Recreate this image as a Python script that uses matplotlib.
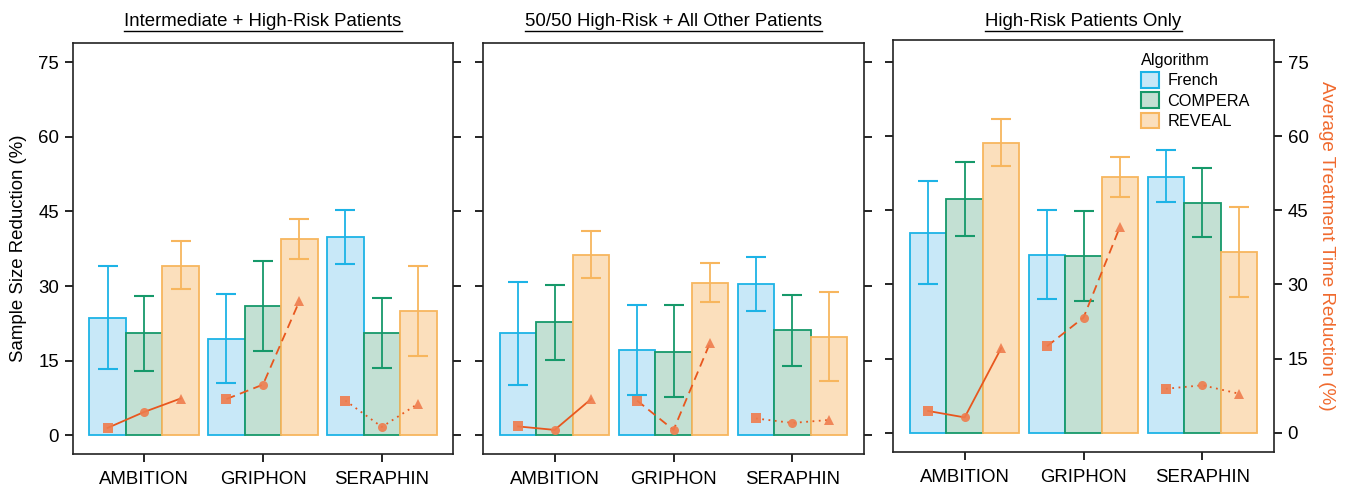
import matplotlib
matplotlib.use("Agg")
import matplotlib.pyplot as plt
import numpy as np
from matplotlib.patches import Patch
from matplotlib.lines import Line2D

plt.rcParams['font.family'] = ['Liberation Sans', 'DejaVu Sans']

trials = ["AMBITION", "GRIPHON", "SERAPHIN"]
algorithms = ["French", "COMPERA", "REVEAL"]
panel_titles = ["Intermediate + High-Risk Patients",
                "50/50 High-Risk + All Other Patients",
                "High-Risk Patients Only"]

# Sample size reduction (%) [panel][trial][algorithm]
ss_mean = [
    [[23.6, 20.5, 34.1], [19.4, 26.0, 39.4], [39.8, 20.5, 25.0]],
    [[20.5, 22.8, 36.3], [17.1, 16.8, 30.7], [30.5, 21.1, 19.8]],
    [[40.5, 47.3, 58.7], [36.0, 35.7, 51.8], [51.8, 46.5, 36.6]],
]
ss_upper = [
    [[34.1, 28.1, 39.0], [28.4, 35.1, 43.5], [45.2, 27.6, 34.1]],
    [[30.9, 30.3, 41.1], [26.1, 26.1, 34.7], [35.8, 28.3, 28.9]],
    [[50.9, 54.8, 63.5], [45.0, 44.8, 55.8], [57.2, 53.6, 45.7]],
]
ss_lower = [
    [[13.3, 12.9, 29.5], [10.5, 16.9, 35.4], [34.5, 13.5, 16.0]],
    [[10.2, 15.2, 31.6], [8.2, 7.7, 26.9], [25.0, 14.0, 10.9]],
    [[30.1, 39.8, 53.9], [27.0, 26.6, 47.7], [46.7, 39.6, 27.5]],
]
# Average treatment time reduction (%) [panel][trial][algorithm]
tt_values = [
    [[1.5, 4.7, 7.4], [7.3, 10.2, 27.0], [7.0, 1.7, 6.4]],
    [[1.8, 1.1, 7.3], [7.0, 1.1, 18.6], [3.4, 2.5, 3.1]],
    [[4.4, 3.1, 17.1], [17.5, 23.3, 41.7], [8.9, 9.6, 7.9]],
]
yticks = [0, 15, 30, 45, 60, 75]

fills = ["#C8E8F8", "#C3E0D3", "#FBDFBC"]
edges = ["#1DB3E6", "#16996A", "#F7B65E"]
line_col = "#E8571E"
mark_col = "#EF7C4D"
line_styles = ["-", (0, (5, 3)), (0, (1, 2.5))]
markers = ["s", "o", "^"]

W, H = 1347, 488
fig = plt.figure(figsize=(W / 100, H / 100), dpi=100)

panel_px = [(72.7, 42.7, 454.3, (-3.8, 78.9)),
            (483.3, 42.7, 454.3, (-3.8, 78.9)),
            (893.3, 40.3, 452.0, (-3.9, 79.4))]
pw = 380.5
bw = 0.307
fs = 13.4

for p in range(3):
    lx, ty, by, ylim = panel_px[p]
    ax = fig.add_axes([lx / W, (H - by) / H, pw / W, (by - ty) / H])
    for t in range(3):
        for a in range(3):
            x = (t + 1) + (a - 1) * bw
            m = ss_mean[p][t][a]
            ax.bar(x, m, width=bw, color=fills[a], edgecolor=edges[a],
                   linewidth=1.3, zorder=2)
            ax.errorbar(x, m, yerr=[[m - ss_lower[p][t][a]], [ss_upper[p][t][a] - m]],
                        fmt='none', ecolor=edges[a], elinewidth=1.3,
                        capsize=7.4, capthick=1.5, zorder=3)
        xs = [(t + 1) + (a - 1) * bw for a in range(3)]
        ax.plot(xs, tt_values[p][t], color=line_col, linestyle=line_styles[t],
                linewidth=1.3, zorder=4)
        for a in range(3):
            ax.plot(xs[a], tt_values[p][t][a], marker=markers[a], color=mark_col,
                    markersize=6.5, alpha=0.9,
                    markeredgewidth=0, linestyle='none', zorder=5)
    ax.set_xlim(0.4, 3.6)
    ax.set_ylim(*ylim)
    ax.set_xticks([1, 2, 3])
    ax.set_xticklabels(trials, fontsize=fs)
    ax.set_yticks(yticks)
    ax.tick_params(axis='x', direction='out', length=6, width=1.2, pad=6)
    ax.tick_params(axis='y', direction='out', length=6, width=1.2, pad=4,
                   left=True, right=True, labelsize=fs,
                   labelleft=(p == 0), labelright=(p == 2))
    for s in ax.spines.values():
        s.set_linewidth(1.2)
        s.set_color("#222222")
    if p == 0:
        ax.set_ylabel("Sample Size Reduction (%)", fontsize=fs, labelpad=8)
    if p == 2:
        fig.text(1327 / W, 1 - 246 / H, "Average Treatment Time Reduction (%)",
                 fontsize=13.6, color="#F06A2E", rotation=270,
                 ha='center', va='center')
        handles = [Patch(facecolor=fills[i], edgecolor=edges[i], linewidth=1.5)
                   for i in range(3)]
        leg = ax.legend(handles, algorithms, title="Algorithm", loc="upper left",
                        bbox_to_anchor=(0.635, 0.985), frameon=False,
                        fontsize=11.7, title_fontsize=11.7, handlelength=1.1,
                        handleheight=1.1, handletextpad=0.5, labelspacing=0.25,
                        borderaxespad=0)
        leg._legend_box.align = "left"

    # underlined title
    cx = (lx + pw / 2) / W
    txt = fig.text(cx, 1 - 21 / H, panel_titles[p], ha='center', va='center',
                   fontsize=fs)
    fig.canvas.draw()
    bb = txt.get_window_extent()
    uy = (bb.y0 - 1.0) / H
    fig.add_artist(Line2D([bb.x0 / W, bb.x1 / W], [uy, uy], color='black',
                          linewidth=1.0, transform=fig.transFigure))

fig.savefig("out.png", dpi=100)
